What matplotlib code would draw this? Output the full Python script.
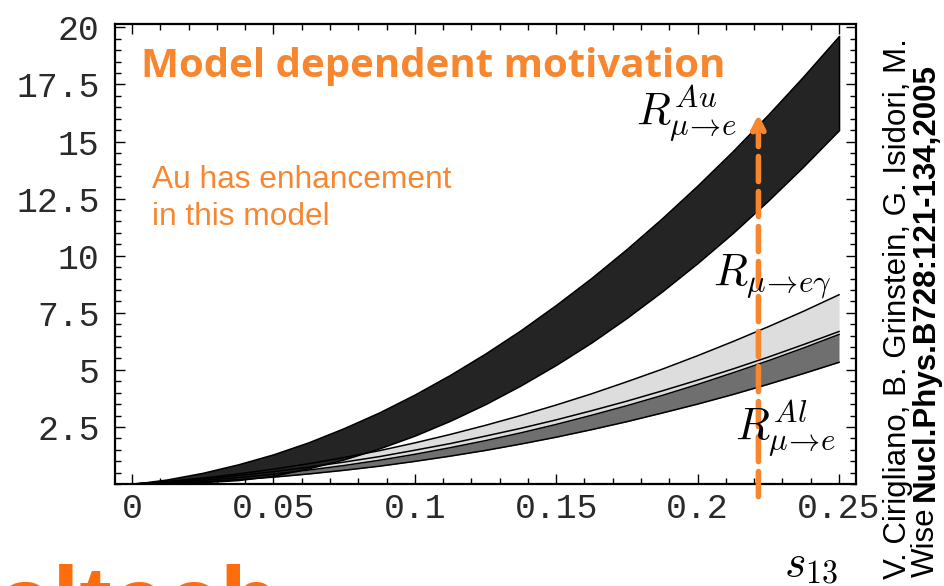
import matplotlib
matplotlib.use("Agg")
import matplotlib.pyplot as plt
from matplotlib.ticker import FixedLocator, MultipleLocator

# s13 sample points
s13 = [0, 0.0125, 0.025, 0.0375, 0.05, 0.0625, 0.075, 0.0875, 0.1, 0.1125, 0.125,
       0.1375, 0.15, 0.1625, 0.175, 0.1875, 0.2, 0.2125, 0.225, 0.2375, 0.25]

# R(mu->e) on Au : upper / lower edge of the black band
au_hi = [0, 0.20, 0.49, 0.86, 1.30, 1.83, 2.45, 3.14, 3.92, 4.78, 5.72,
         6.74, 7.85, 9.03, 10.30, 11.65, 13.08, 14.59, 16.19, 17.87, 19.63]
au_lo = [0, 0.03, 0.08, 0.17, 0.36, 0.69, 1.08, 1.56, 2.12, 2.77, 3.50,
         4.32, 5.22, 6.20, 7.28, 8.44, 9.68, 11.00, 12.42, 13.92, 15.50]

# R(mu->e gamma) : light grey band (top edge and inner edge)
meg_hi = [0, 0.11, 0.26, 0.44, 0.65, 0.89, 1.16, 1.46, 1.80, 2.17, 2.57,
          3.00, 3.46, 3.95, 4.48, 5.03, 5.62, 6.24, 6.89, 7.57, 8.29]
meg_lo = [0, 0.10, 0.22, 0.37, 0.54, 0.74, 0.96, 1.20, 1.48, 1.77, 2.10,
          2.44, 2.81, 3.21, 3.63, 4.08, 4.55, 5.04, 5.56, 6.11, 6.68]

# R(mu->e) on Al : dark grey band
al_hi = [0, 0.07, 0.16, 0.28, 0.43, 0.61, 0.81, 1.04, 1.30, 1.59, 1.90,
         2.24, 2.61, 3.01, 3.43, 3.88, 4.36, 4.87, 5.40, 5.96, 6.55]
al_lo = [0, 0.04, 0.10, 0.19, 0.30, 0.44, 0.60, 0.78, 0.99, 1.22, 1.47,
         1.75, 2.05, 2.38, 2.73, 3.11, 3.50, 3.92, 4.37, 4.84, 5.33]

xticks = [0, 0.05, 0.1, 0.15, 0.2, 0.25]
xlabels = ["0", "0.05", "0.1", "0.15", "0.2", "0.25"]
yticks = [2.5, 5, 7.5, 10, 12.5, 15, 17.5, 20]
ylabels = ["2.5", "5", "7.5", "10", "12.5", "15", "17.5", "20"]

arrow_s13 = 0.2215

orange = "#f7862f"
logo_orange = "#ff6c0c"

plt.rcParams["mathtext.fontset"] = "cm"

W, H = 945, 586
fig = plt.figure(figsize=(W / 100, H / 100), dpi=100)
ax = fig.add_axes([115 / W, 1 - 484 / H, 741 / W, 460 / H])


def fx(px):
    return px / W


def fy(py):
    return 1 - py / H


# lower bands first, the Au band is drawn on top of them
ax.fill_between(s13, meg_hi, al_hi, color="#dddddd", lw=0)
ax.fill_between(s13, al_hi, al_lo, color="#6f6f6f", lw=0)
for edge in (meg_hi, meg_lo, al_hi, al_lo):
    ax.plot(s13, edge, color="k", lw=1.1)
ax.fill_between(s13, au_hi, au_lo, color="#242424", edgecolor="k", lw=1.1)

ax.set_xlim(-0.006, 0.256)
ax.set_ylim(0, 20.15)

ax.xaxis.set_major_locator(FixedLocator(xticks))
ax.set_xticklabels(xlabels)
ax.xaxis.set_minor_locator(MultipleLocator(0.01))
ax.yaxis.set_major_locator(FixedLocator(yticks))
ax.set_yticklabels(ylabels)
ax.yaxis.set_minor_locator(MultipleLocator(0.5))

ax.tick_params(which="both", direction="in", top=True, right=True, width=1)
ax.tick_params(which="major", length=7)
ax.tick_params(which="minor", length=4)
ax.tick_params(axis="y", pad=11)
ax.tick_params(axis="x", pad=6)
for lab in ax.get_xticklabels() + ax.get_yticklabels():
    lab.set_fontfamily("Liberation Mono")
    lab.set_fontsize(25)
    lab.set_color("#2a2a2a")
for sp in ax.spines.values():
    sp.set_linewidth(1.6)

# arrow along s13 ~ 0.22
ax.annotate("", xy=(arrow_s13, 16.2), xytext=(arrow_s13, -0.55),
            annotation_clip=False,
            arrowprops=dict(arrowstyle="-|>,head_length=0.8,head_width=0.4",
                            color=orange, lw=4, linestyle=(0, (4.5, 1.8)),
                            shrinkA=0, shrinkB=0))

# band labels (tight arrow in the subscripts)
arr = r"\!\rightarrow\!"
fig.text(fx(636), fy(125), r"$R^{Au}_{\mu" + arr + r"e}$", fontsize=32, va="baseline")
fig.text(fx(713), fy(285), r"$R_{\mu" + arr + r"e\gamma}$", fontsize=32, va="baseline")
fig.text(fx(735), fy(440), r"$R^{Al}_{\mu" + arr + r"e}$", fontsize=32, va="baseline")
fig.text(fx(784), fy(576), r"$s_{13}$", fontsize=33, va="baseline")

# slide annotations
fig.text(fx(141), fy(77), "Model dependent motivation", family="Open Sans",
         weight="bold", fontsize=29, color=orange, va="baseline")
fig.text(fx(152), fy(188), "Au has enhancement", family="Liberation Sans",
         fontsize=22.8, color=orange, va="baseline")
fig.text(fx(152), fy(225), "in this model", family="Liberation Sans",
         fontsize=22.8, color=orange, va="baseline")

# reference, rotated on the right
fig.text(fx(898), fy(579), "V. Cirigliano, B. Grinstein, G. Isidori, M.",
         family="Liberation Sans", fontsize=22.5, rotation=90,
         ha="center", va="bottom")
t_wise = fig.text(fx(926), fy(577), "Wise", family="Liberation Sans",
                  fontsize=22.5, rotation=90, ha="center", va="bottom")
fig.canvas.draw()
bb = t_wise.get_window_extent(fig.canvas.get_renderer())
fig.text(fx(926), (bb.y1 + 6) / H, "Nucl.Phys.B728:121-134,2005",
         family="Liberation Sans", weight="bold", fontsize=22.5, rotation=90,
         ha="center", va="bottom")

# cut-off logo at the bottom left
fig.text(fx(-72), fy(634), "Caltech", family="Liberation Sans", weight="bold",
         fontsize=70, color=logo_orange, va="baseline")

fig.savefig("out.png", dpi=100)
